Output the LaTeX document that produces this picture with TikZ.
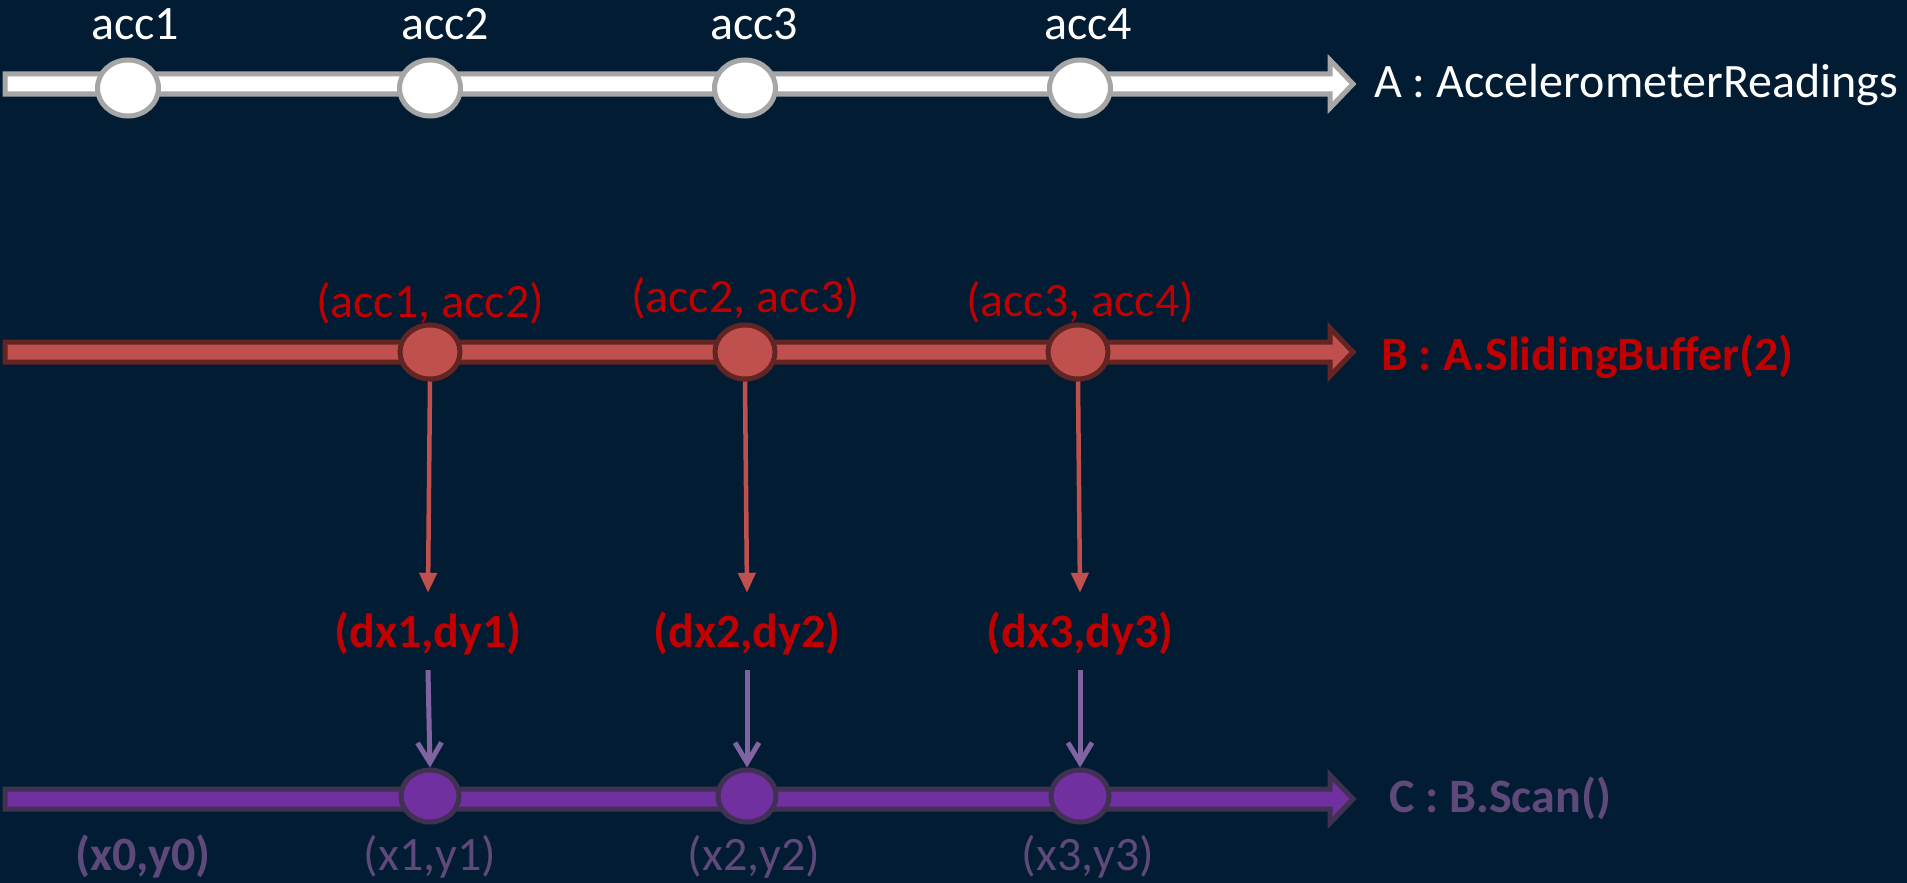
\documentclass[tikz,border=0pt]{standalone}
\usepackage{fontspec}
\setmainfont{Carlito}
\usetikzlibrary{arrows.meta,shapes.geometric}
\definecolor{bg}{HTML}{021D33}
\definecolor{grayborder}{HTML}{A6A6A6}
\definecolor{redfill}{HTML}{C0504D}
\definecolor{redborder}{HTML}{632523}
\definecolor{redtext}{HTML}{C00000}
\definecolor{purfill}{HTML}{7030A0}
\definecolor{purborder}{HTML}{403152}
\definecolor{purarrow}{HTML}{8064A2}
\definecolor{purtext}{HTML}{5F497A}
\tikzset{
  barA/.style={draw=grayborder, fill=white, line width=5pt},
  barB/.style={draw=redborder, fill=redfill, line width=5pt},
  barC/.style={draw=purborder, fill=purfill, line width=5pt},
  dotA/.style={ellipse, draw=grayborder, fill=white, line width=5pt, minimum width=61pt, minimum height=56pt, inner sep=0pt},
  dotB/.style={ellipse, draw=redborder, fill=redfill, line width=5pt, minimum width=60pt, minimum height=54pt, inner sep=0pt},
  dotC/.style={ellipse, draw=purborder, fill=purfill, line width=5pt, minimum width=58pt, minimum height=52pt, inner sep=0pt},
  lbl/.style={inner sep=0pt, anchor=base, font=\fontsize{48}{57}\selectfont},
  blbl/.style={lbl, font=\fontsize{48}{57}\selectfont\bfseries},
  dlbl/.style={blbl, text=redtext, text height=54pt, text depth=23pt},
  redarr/.style={draw=redfill, line width=4.5pt, -{Triangle[length=20pt,width=17pt]}},
  purarr/.style={draw=purarrow, line width=5pt, -{Straight Barb[length=20pt,width=24pt]}},
}
\begin{document}
\begin{tikzpicture}[x=1pt,y=-1pt]
\fill[bg] (0,0) rectangle (1907,883);
\useasboundingbox (0,0) rectangle (1907,883);

% Stream A
\draw[barA] (5,74) -- (1330,74) -- (1330,60) -- (1353,84) -- (1330,108) -- (1330,94) -- (5,94) -- cycle;
\node[dotA] (a1) at (128,88) {};
\node[dotA] (a2) at (430,88) {};
\node[dotA] (a3) at (745,88) {};
\node[dotA] (a4) at (1080,88) {};
\node[lbl, text=white] (la1) at (135,40) {acc1};
\node[lbl, text=white] (la2) at (445,40) {acc2};
\node[lbl, text=white] (la3) at (754,40) {acc3};
\node[lbl, text=white] (la4) at (1088,40) {acc4};
\node[lbl, text=white, anchor=base west] (nameA) at (1374,98) {A : AccelerometerReadings};

% Stream B
\draw[barB] (5,342) -- (1330,342) -- (1330,328) -- (1353,352) -- (1330,376) -- (1330,362) -- (5,362) -- cycle;
\node[dotB] (b1) at (430,352) {};
\node[dotB] (b2) at (745,352) {};
\node[dotB] (b3) at (1078,352) {};
\node[lbl, text=redtext] (lb1) at (430,317) {(acc1, acc2)};
\node[lbl, text=redtext] (lb2) at (745,312) {(acc2, acc3)};
\node[lbl, text=redtext] (lb3) at (1080,316) {(acc3, acc4)};
\node[blbl, text=redtext, anchor=base west] (nameB) at (1381,370) {B : A.SlidingBuffer(2)};

% deltas
\node[dlbl] (d1) at (428,647) {(dx1,dy1)};
\node[dlbl] (d2) at (747,647) {(dx2,dy2)};
\node[dlbl] (d3) at (1080,647) {(dx3,dy3)};

% Stream C
\draw[barC] (5,789) -- (1330,789) -- (1330,775) -- (1353,799) -- (1330,823) -- (1330,809) -- (5,809) -- cycle;
\node[dotC] (c1) at (430,796) {};
\node[dotC] (c2) at (747,796) {};
\node[dotC] (c3) at (1080,796) {};
\node[blbl, text=purtext] (lc0) at (143,870) {(x0,y0)};
\node[lbl, text=purtext] (lc1) at (430,870) {(x1,y1)};
\node[lbl, text=purtext] (lc2) at (754,870) {(x2,y2)};
\node[lbl, text=purtext] (lc3) at (1088,870) {(x3,y3)};
\node[blbl, text=purtext, anchor=base west] (nameC) at (1389,812) {C : B.Scan()};

% connectors
\draw[redarr] (b1.south) -- (d1.north);
\draw[redarr] (b2.south) -- (d2.north);
\draw[redarr] (b3.south) -- (d3.north);
\draw[purarr] (d1.south) -- (c1.north);
\draw[purarr] (d2.south) -- (c2.north);
\draw[purarr] (d3.south) -- (c3.north);
\end{tikzpicture}
\end{document}
